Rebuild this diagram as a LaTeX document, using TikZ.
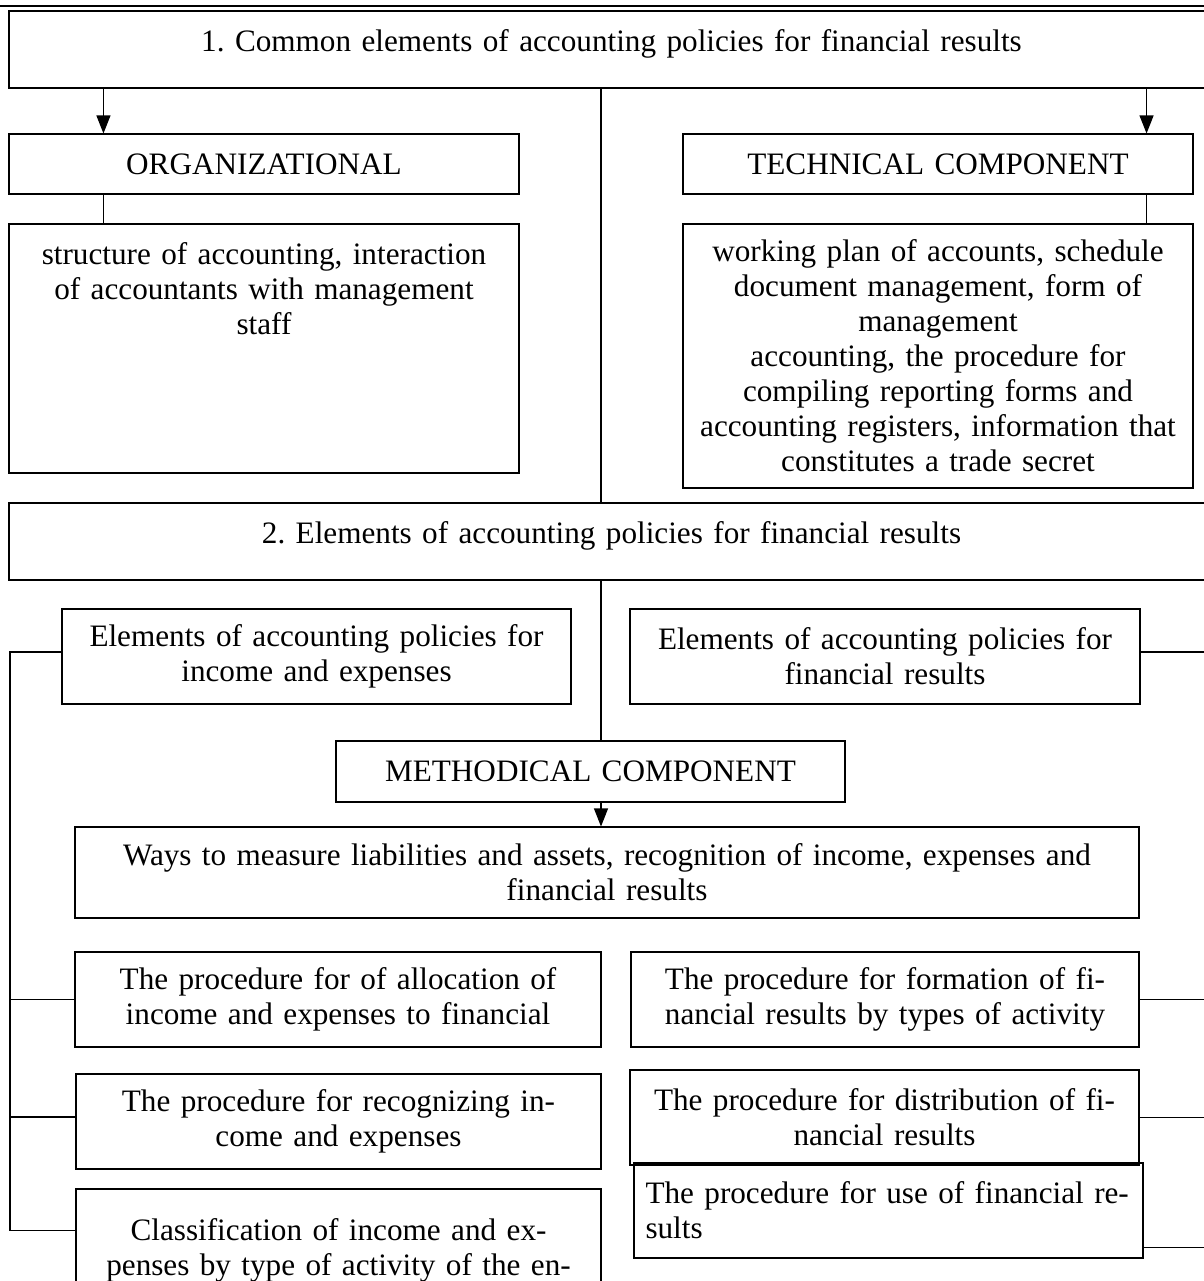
\documentclass[tikz,border=0pt]{standalone}
\usepackage{fontspec}
\setmainfont{Liberation Serif}
\usepackage{tikz}
\usetikzlibrary{arrows.meta}
\tikzset{%
    title box/.style={%
        text width=602.5pt, minimum height=38.5pt,
        text height=10.5pt, text depth=9pt
    }
}

\begin{document}
\begin{tikzpicture}[->,>={Triangle[length=9pt,width=7pt]},x=0.5pt,y=-0.5pt,
  line width=0.55pt,main box/.style={rectangle,draw,inner sep=0pt,align=center,
  font=\fontsize{15.6}{17.5}\selectfont\frenchspacing}]
  \useasboundingbox (0,0) rectangle (1204,1281);
  \draw[-,line width=1.2pt] (0,6) -- (1204,6);
  \coordinate (spine) at (601,0);
  \coordinate (lrail) at (10,0);
  \coordinate (rrail) at (1206,0);

  \node[main box,title box] (1) at (611.5,49.5) {1. Common elements of accounting policies for financial results};
  \node[main box,text width=255pt,minimum height=30pt] (2) at (264,164) {ORGANIZATIONAL};
  \node[main box,text width=255pt,minimum height=30pt] (3) at (938,164) {TECHNICAL COMPONENT};
  \node[main box,text width=255pt,text height=20pt,text depth=104.5pt] (4) at (264,348.5)
    {structure of accounting, interaction\\ of accountants with management\\ staff};
  \node[main box,text width=255pt,minimum height=132pt] (5) at (938,356)
    {working plan of accounts, schedule\\ document management, form of\\ management\\
     accounting, the procedure for\\ compiling reporting forms and\\
     accounting registers, information that\\ constitutes a trade secret};
  \node[main box,title box] (6) at (611.5,541.5) {2. Elements of accounting policies for financial results};
  \node[main box,text width=254.5pt,minimum height=47.5pt] (7) at (316.5,656.5)
    {Elements of accounting policies for\\ income and expenses};
  \node[main box,text width=255pt,minimum height=47.5pt] (8) at (885,656.5)
    {Elements of accounting policies for\\ financial results};
  \node[main box,text width=254.5pt,minimum height=30.5pt] (9) at (590.5,771.5) {METHODICAL COMPONENT};
  \node[main box,text width=532pt,minimum height=45.5pt] (10) at (607,872.5)
    {Ways to measure liabilities and assets, recognition of income, expenses and\\ financial results};
  \node[main box,text width=263pt,minimum height=47.5pt] (11) at (338,999.5)
    {The procedure for of allocation of\\ income and expenses to financial};
  \node[main box,text width=254pt,minimum height=47.5pt] (12) at (885,999.5)
    {The procedure for formation of fi-\\ nancial results by types of activity};
  \node[main box,text width=262.5pt,minimum height=47.5pt] (13) at (338.5,1121.5)
    {The procedure for recognizing in-\\ come and expenses};
  \node[main box,text width=254.5pt,minimum height=47.5pt] (14) at (884.5,1117.5)
    {The procedure for distribution of fi-\\ nancial results};
  \node[main box,text width=262.5pt,text height=25.5pt,text depth=40pt] (15) at (338.5,1254.5)
    {Classification of income and ex-\\ penses by type of activity of the en-};
  \node[main box,align=left,text width=243pt,inner xsep=5.75pt,minimum height=47.5pt] (16) at (888.5,1210.5)
    {The procedure for use of financial re-\\ sults};

\path
  ([xshift=47.5pt]2.north west |- 1.south) edge ([xshift=47.5pt]2.north west)
  ([xshift=-23.5pt]3.north east |- 1.south) edge ([xshift=-23.5pt]3.north east)
  ([xshift=47.5pt]2.south west) edge[-] ([xshift=47.5pt]4.north west)
  ([xshift=-23.5pt]3.south east) edge[-] ([xshift=-23.5pt]5.north east)
  (1.south -| spine) edge[-] (6.north -| spine)
  (6.south -| spine) edge[-] (9.north -| spine)
  (9.south -| spine) edge (10.north -| spine);

  \draw[-] ([yshift=2.25pt]7.west) -| ([yshift=-21pt]15.north west -| lrail) -- ([yshift=-21pt]15.north west);
  \draw[-] (11.west) -- (11.west -| lrail);
  \draw[-] ([yshift=2.25pt]13.west) -- ([yshift=2.25pt]13.west -| lrail);
  \draw[-] ([yshift=2.25pt]8.east) -- ([yshift=2.25pt]8.east -| rrail);
  \draw[-] (12.east) -- (12.east -| rrail);
  \draw[-] (14.east) -- (14.east -| rrail);
  \draw[-] ([yshift=5.5pt]16.south east) -- ([yshift=5.5pt]16.south east -| rrail);
\end{tikzpicture}
\end{document}
